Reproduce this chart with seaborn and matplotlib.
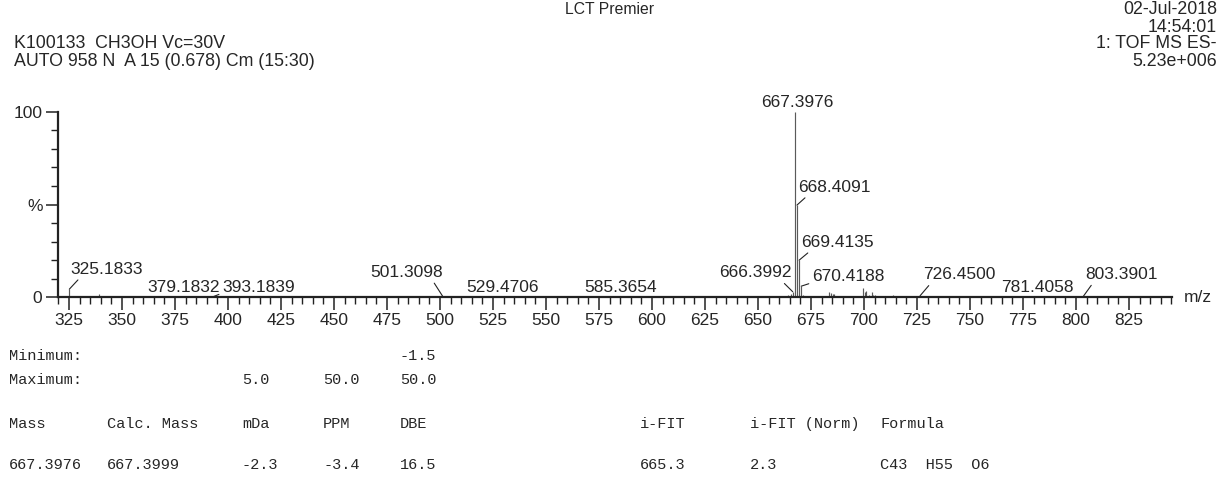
import numpy as np
import pandas as pd
import matplotlib
matplotlib.use("Agg")
import matplotlib.pyplot as plt
from matplotlib.ticker import MultipleLocator, FixedLocator
import seaborn as sns

# ---- spectrum data: labelled peaks (m/z, relative intensity %) ----
label_mz = [325.1833, 379.1832, 393.1839, 501.3098, 529.4706, 585.3654,
            666.3992, 667.3976, 668.4091, 669.4135, 670.4188, 726.4500,
            781.4058, 803.3901]
label_int = [4.4, 0.4, 0.4, 0.5, 0.5, 0.4,
             3.0, 100.0, 49.7, 20.0, 6.0, 0.8,
             0.4, 0.4]

# minor, unlabelled peaks
minor_mz = [339.2, 341.2, 355.1, 365.2, 411.2, 440.3, 470.3, 531.5, 560.4,
            612.4, 645.4, 660.4, 663.4, 664.4, 665.4, 671.4, 672.4,
            683.7, 684.5, 685.2, 685.8, 687.4, 690.4, 697.4, 699.7, 700.4,
            701.0, 702.4, 703.8, 704.4, 705.2, 713.7, 717.0, 720.0, 721.4,
            727.5, 741.4, 749.4, 782.4, 804.4]
minor_int = [1.8, 0.6, 0.4, 0.3, 0.3, 0.3, 0.3, 0.8, 0.3,
             0.3, 0.3, 0.5, 0.6, 1.0, 2.0, 1.5, 0.5,
             3.1, 2.2, 2.0, 1.8, 0.8, 0.4, 0.6, 5.2, 3.0,
             3.5, 1.5, 3.0, 1.2, 1.5, 1.0, 0.8, 0.7, 0.5,
             0.3, 0.3, 0.3, 0.3, 0.3]

# label placement (offset of label centre from peak top, pixels) and leader anchor
label_dx = [37, 0, 45, -36, 0, 0, -37, 2, 37, 38, 47, 39, 1, 38]
label_dy = [20, 9, 9.5, 24, 9, 9, 19, 9, 18, 18, 10, 21, 9, 22]
leader_rel = [(0.15, 0), None, (0.0, 0.1), (0.85, 0), None, None, (0.85, 0),
              None, (0.15, 0), (0.15, 0), (0.02, 0.1), (0.12, 0), None, (0.12, 0)]

# axis ticks
x_major = list(range(325, 826, 25))
y_major = [0, 50, 100]
y_major_labels = ["0", "%", "100"]

# elemental composition report
report_headers = ["Mass", "Calc. Mass", "mDa", "PPM", "DBE", "i-FIT", "i-FIT (Norm)", "Formula"]
report_values = ["667.3976", "667.3999", "-2.3", "-3.4", "16.5", "665.3", "2.3", "C43  H55  O6"]
limit_min = {"DBE": "-1.5"}
limit_max = {"mDa": "5.0", "PPM": "50.0", "DBE": "50.0"}

sns.set_theme(style="white")
plt.rcParams["font.family"] = ["Liberation Sans", "DejaVu Sans"]
MONO = ["Liberation Mono", "DejaVu Sans Mono"]
MONO_SIZE = 11.0
HEAD_SIZE = 12.8

spec = pd.DataFrame({"mz": label_mz + minor_mz, "intensity": label_int + minor_int})

fig = plt.figure(figsize=(12.23, 4.79), dpi=100)
ax = fig.add_axes([0.0472, 0.3793, 0.9111, 0.3875])

ax.vlines(spec["mz"], 0, spec["intensity"], color="#5a5a5a", lw=0.85, clip_on=False)

ax.set_xlim(319.7, 845.3)
ax.set_ylim(0, 100)
sns.despine(ax=ax)
for s in ("left", "bottom"):
    ax.spines[s].set_linewidth(1.6)
    ax.spines[s].set_color("#222222")

ax.xaxis.set_major_locator(FixedLocator(x_major))
ax.xaxis.set_minor_locator(MultipleLocator(5))
ax.yaxis.set_major_locator(FixedLocator(y_major))
ax.set_yticklabels(y_major_labels)
ax.yaxis.set_minor_locator(MultipleLocator(10))
ax.tick_params(which="major", direction="out", length=9, width=1.1, color="#222222",
               labelsize=12.5, pad=2, bottom=True, left=True)
ax.tick_params(which="minor", direction="out", length=5, width=1.0, color="#222222",
               bottom=True, left=True)
ax.set_xlabel("")
ax.set_ylabel("")

ax.text(1.011, 0.0, "m/z", transform=ax.transAxes, ha="left", va="center", fontsize=12.5)

# peak labels with leader lines
for mz, inten, dx, dy, rel in zip(label_mz, label_int, label_dx, label_dy, leader_rel):
    kw = {}
    if rel is not None:
        kw["arrowprops"] = dict(arrowstyle="-", lw=0.8, color="#222222",
                                shrinkA=0, shrinkB=0, relpos=rel)
    ax.annotate(f"{mz:.4f}", xy=(mz, inten), xytext=(dx, dy),
                textcoords="offset pixels", ha="center", va="center",
                fontsize=12.5, annotation_clip=False, **kw)

# header block
W, H = 1223.0, 479.0
def fx(px):
    return px / W
def fy(py):
    return 1 - py / H

fig.text(fx(610), fy(10), "LCT Premier", ha="center", va="center", fontsize=11.3)
fig.text(fx(14), fy(44), "K100133  CH3OH Vc=30V", ha="left", va="center", fontsize=HEAD_SIZE)
fig.text(fx(14), fy(62), "AUTO 958 N  A 15 (0.678) Cm (15:30)", ha="left", va="center", fontsize=HEAD_SIZE)
for txt, py in [("02-Jul-2018", 10), ("14:54:01", 27), ("1: TOF MS ES-", 44), ("5.23e+006", 61)]:
    fig.text(fx(1217), fy(py), txt, ha="right", va="center", fontsize=HEAD_SIZE)

# composition report table
col_x = [9, 107, 242, 323, 400, 640, 750, 880]
fig.text(fx(9), fy(356), "Minimum:", family=MONO, fontsize=MONO_SIZE, va="center")
fig.text(fx(9), fy(380), "Maximum:", family=MONO, fontsize=MONO_SIZE, va="center")
for h, x in zip(report_headers, col_x):
    if h in limit_min:
        fig.text(fx(x), fy(356), limit_min[h], family=MONO, fontsize=MONO_SIZE, va="center")
    if h in limit_max:
        fig.text(fx(x), fy(380), limit_max[h], family=MONO, fontsize=MONO_SIZE, va="center")
for h, v, x in zip(report_headers, report_values, col_x):
    fig.text(fx(x), fy(424), h, family=MONO, fontsize=MONO_SIZE, va="center")
    fig.text(fx(x), fy(465), v, family=MONO, fontsize=MONO_SIZE, va="center")

fig.savefig("out.png", dpi=100)
